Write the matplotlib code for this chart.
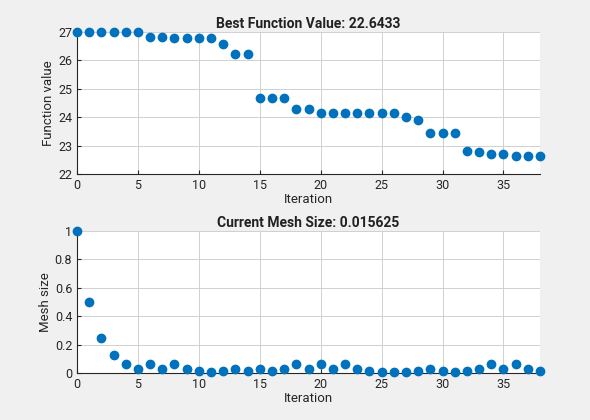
import matplotlib
matplotlib.use("Agg")
import matplotlib.pyplot as plt

iterations = list(range(39))
best_f = [27,27,27,27,27,27,26.82,26.82,26.79,26.79,26.79,26.79,26.58,26.22,26.22,
          24.68,24.68,24.68,24.29,24.29,24.15,24.15,24.15,24.15,24.15,24.15,24.15,24.0,23.9,
          23.45,23.45,23.45,22.81,22.78,22.72,22.72,22.6433,22.6433,22.6433]
mesh = [1,0.5,0.25,0.125,0.0625,0.03125,0.0625,0.03125,0.0625,0.03125,0.015625,0.0078125,
        0.015625,0.03125,0.015625,0.03125,0.015625,0.03125,0.0625,0.03125,0.0625,0.03125,
        0.0625,0.03125,0.015625,0.0078125,0.00390625,0.0078125,0.015625,0.03125,0.015625,
        0.0078125,0.015625,0.03125,0.0625,0.03125,0.0625,0.03125,0.015625]

plt.rcParams['font.family'] = ['Roboto', 'DejaVu Sans']
fig = plt.figure(figsize=(5.9, 4.2), dpi=100, facecolor='#f0f0f0')
W, H = 590, 420
ax1 = fig.add_axes([77/W, 1-174/H, 463/W, 142/H])
ax2 = fig.add_axes([77/W, 1-373/H, 463/W, 142/H])
col = '#0072BD'
for ax, y, title, ylab, ylim, yt in [
    (ax1, best_f, 'Best Function Value: 22.6433', 'Function value', (22, 27), range(22, 28)),
    (ax2, mesh, 'Current Mesh Size: 0.015625', 'Mesh size', (0, 1), [0, 0.2, 0.4, 0.6, 0.8, 1])]:
    ax.scatter(iterations, y, s=36, color=col, zorder=3, clip_on=False)
    ax.set_xlim(0, 38)
    ax.set_ylim(*ylim)
    ax.set_yticks(list(yt))
    ax.set_yticklabels([('%g' % v) for v in yt])
    ax.set_xticks(range(0, 40, 5))
    ax.grid(True, color='#d0d0d0', linewidth=0.7)
    ax.set_axisbelow(True)
    ax.set_title(title, fontsize=10, fontweight='bold', color='#212121', pad=3)
    ax.set_xlabel('Iteration', fontsize=9.5, color='#262626', labelpad=1)
    ax.set_ylabel(ylab, fontsize=9.5, color='#262626', labelpad=2)
    ax.tick_params(labelsize=9, colors='#262626', length=3, direction='in', top=False, right=False)
    for s in ['top', 'right']:
        ax.spines[s].set_visible(False)
    for s in ['left', 'bottom']:
        ax.spines[s].set_color('#262626')
fig.savefig('out.png', dpi=100, facecolor=fig.get_facecolor())
